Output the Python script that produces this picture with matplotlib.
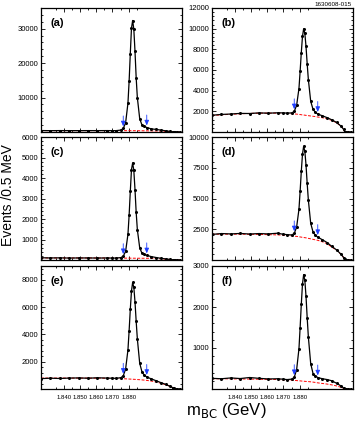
"""Six-panel m_BC distributions with signal fits and background curves."""

import matplotlib
matplotlib.use('Agg')
import matplotlib.pyplot as plt
from matplotlib.ticker import AutoMinorLocator, FixedLocator

plt.rcParams['font.family'] = ['Liberation Sans', 'DejaVu Sans']

# beam-constrained mass, GeV
MBC = [1.830, 1.834, 1.838, 1.842, 1.846, 1.850, 1.854, 1.858, 1.860,
       1.862, 1.864, 1.865, 1.866, 1.867, 1.8675, 1.868, 1.8685, 1.869,
       1.8695, 1.870, 1.8705, 1.871, 1.872, 1.873, 1.874, 1.875, 1.877,
       1.879, 1.881, 1.883, 1.885, 1.886, 1.8865, 1.887, 1.888, 1.889]

EVENTS_A = [420, 390, 410, 400, 395, 405, 400, 410, 400, 400, 555, 1030,
            2625, 8380, 14780, 22780, 30130, 32370, 29810, 23410, 15730,
            9960, 3880, 1955, 1630, 1300, 896, 750, 550, 350, 160, 40, 0,
            0, 0, 0]
BKG_A = [400, 400, 400, 400, 400, 400, 400, 400, 400, 398, 395, 390, 387,
         384, 382, 380, 378, 376, 374, 372, 370, 368, 362, 356, 348, 340,
         320, 290, 240, 180, 100, 40, 0, 0, 0, 0]

EVENTS_B = [1620, 1700, 1740, 1800, 1790, 1850, 1820, 1860, 1850, 1830,
            1850, 2000, 2565, 4205, 5865, 7680, 9250, 9990, 9560, 8290,
            6610, 5080, 2970, 2190, 1910, 1740, 1564, 1388, 1178, 925, 550,
            250, 0, 0, 0, 0]
BKG_B = [1600, 1660, 1720, 1760, 1800, 1820, 1830, 1830, 1820, 1800, 1770,
         1750, 1730, 1700, 1690, 1670, 1650, 1640, 1630, 1610, 1600, 1580,
         1550, 1520, 1490, 1450, 1380, 1280, 1120, 900, 550, 250, 0, 0, 0,
         0]

EVENTS_C = [110, 100, 105, 95, 100, 100, 95, 100, 95, 95, 118, 185, 417,
            1253, 2183, 3344, 4414, 4738, 4366, 3435, 2319, 1481, 598, 318,
            271, 225, 164, 121, 83, 54, 25, 8, 0, 0, 0, 0]
BKG_C = [100, 100, 100, 100, 100, 100, 98, 97, 96, 95, 94, 92, 91, 90, 90,
         89, 89, 88, 88, 87, 87, 86, 86, 85, 85, 85, 80, 70, 55, 40, 20, 8,
         0, 0, 0, 0]

EVENTS_D = [2080, 2150, 2120, 2160, 2110, 2150, 2120, 2180, 2100, 2060,
            2034, 2163, 2662, 4116, 5585, 7202, 8592, 9250, 8864, 7736,
            6232, 4876, 2981, 2274, 2011, 1860, 1643, 1416, 1102, 822, 450,
            200, 60, 0, 0, 0]
BKG_D = [2100, 2100, 2100, 2100, 2090, 2080, 2060, 2040, 2020, 2000, 1960,
         1940, 1920, 1890, 1875, 1860, 1840, 1830, 1815, 1800, 1780, 1760,
         1720, 1680, 1640, 1600, 1480, 1320, 1050, 800, 450, 200, 60, 0, 0,
         0]

EVENTS_E = [760, 790, 770, 800, 810, 790, 820, 800, 790, 780, 831, 963,
            1454, 2861, 4273, 5826, 7167, 7800, 7441, 6373, 4951, 3666,
            1884, 1232, 1004, 878, 736, 602, 470, 341, 190, 100, 40, 0, 0, 0]
BKG_E = [800, 800, 800, 800, 800, 800, 795, 790, 780, 770, 760, 750, 745,
         735, 730, 725, 720, 715, 710, 705, 700, 690, 680, 665, 650, 630,
         580, 510, 420, 320, 190, 100, 40, 0, 0, 0]

EVENTS_F = [260, 250, 270, 255, 280, 260, 245, 250, 240, 230, 241, 288,
            465, 980, 1498, 2067, 2558, 2790, 2657, 2265, 1742, 1272, 617,
            376, 320, 280, 250, 230, 200, 140, 70, 25, 0, 0, 0, 0]
BKG_F = [250, 250, 248, 245, 242, 238, 234, 230, 225, 220, 215, 210, 205,
         200, 198, 195, 192, 190, 187, 185, 182, 180, 175, 168, 160, 150,
         135, 120, 100, 75, 40, 15, 0, 0, 0, 0]

PANEL_LABELS = ['(a)', '(b)', '(c)', '(d)', '(e)', '(f)']
Y_MAX = [36000, 12000, 6000, 10000, 9000, 3000]
Y_TICKS = [[10000, 20000, 30000],
           [2000, 4000, 6000, 8000, 10000, 12000],
           [1000, 2000, 3000, 4000, 5000, 6000],
           [2500, 5000, 7500, 10000],
           [2000, 4000, 6000, 8000],
           [1000, 2000, 3000]]

# signal window edges marked by arrows
WINDOW = [1.865, 1.875]

# the reference prints its x labels at these spots, not at the true values
X_TICK_LABELS = ['1.840', '1.850', '1.860', '1.870', '1.880']
X_TICK_POS = [1.8398, 1.8467, 1.8535, 1.8604, 1.8673]

EVENTS = [EVENTS_A, EVENTS_B, EVENTS_C, EVENTS_D, EVENTS_E, EVENTS_F]
BKG = [BKG_A, BKG_B, BKG_C, BKG_D, BKG_E, BKG_F]

W, H = 355, 422
fig = plt.figure(figsize=(W / 100, H / 100), dpi=100)

# axes boxes in pixels: (left, right) and (top, bottom)
col_px = [(41, 182), (212, 353)]
row_px = [(8, 132), (137, 260), (266, 389)]

for i in range(6):
    r, c = divmod(i, 2)
    x0, x1 = col_px[c]
    y0, y1 = row_px[r]
    ax = fig.add_axes([x0 / W, 1 - y1 / H, (x1 - x0) / W, (y1 - y0) / H])

    ax.plot(MBC, BKG[i], color='red', lw=0.7, dashes=(3, 1.5), zorder=2)
    ax.plot(MBC, EVENTS[i], color='black', lw=0.9, marker='o', ms=1.2,
            zorder=3)

    for xw in WINDOW:
        yw = EVENTS[i][MBC.index(xw)]
        ax.annotate('', xy=(xw, yw), xytext=(0, 9),
                    textcoords='offset points',
                    arrowprops=dict(arrowstyle='-|>,head_length=0.5,'
                                               'head_width=0.22',
                                    mutation_scale=6,
                                    color='#1f3fff', lw=0.6,
                                    shrinkA=0, shrinkB=1.5),
                    zorder=4)

    ax.set_xlim(1.830, 1.890)
    ax.set_ylim(0, Y_MAX[i])
    ax.set_yticks(Y_TICKS[i])
    ax.yaxis.set_minor_locator(AutoMinorLocator(5))
    ax.xaxis.set_major_locator(FixedLocator(X_TICK_POS))
    ax.xaxis.set_minor_locator(
        FixedLocator([p + 0.00344 for p in [1.8330] + X_TICK_POS]))
    if r == 2:
        ax.set_xticklabels(X_TICK_LABELS)
    else:
        ax.set_xticklabels([])

    ax.tick_params(which='both', direction='in', top=True, right=True,
                   labelsize=5.5, pad=2, width=0.6)
    ax.tick_params(axis='x', pad=4, labelsize=4.3)
    ax.tick_params(which='major', length=3)
    ax.tick_params(which='minor', length=1.6)
    for sp in ax.spines.values():
        sp.set_linewidth(0.9)

    ax.text(0.064, 0.88, PANEL_LABELS[i], transform=ax.transAxes,
            fontsize=8, fontweight='bold', va='center', ha='left')

fig.text(8 / W, 1 - 195 / H, 'Events /0.5 MeV', rotation=90,
         ha='center', va='center', fontsize=10)
fig.text(226 / W, 1 - 411 / H, r'm$_{\mathrm{BC}}$ (GeV)',
         ha='center', va='center', fontsize=12)
fig.text(352 / W, 1 - 4 / H, '1630608-015', ha='right', va='center',
         fontsize=4.5)

fig.savefig('out.png', dpi=100)
